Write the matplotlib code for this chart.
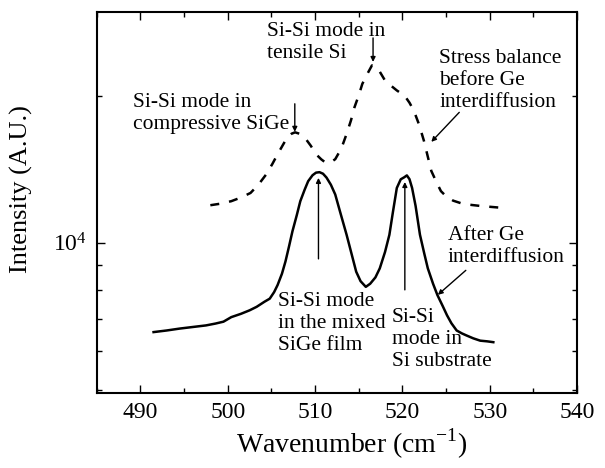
import numpy as np
import matplotlib
matplotlib.use("Agg")
import matplotlib.pyplot as plt
from matplotlib.ticker import LogLocator, NullFormatter, MultipleLocator

plt.rcParams['font.family'] = ['Liberation Serif', 'DejaVu Serif']
plt.rcParams['mathtext.fontset'] = 'custom'
plt.rcParams['mathtext.rm'] = 'Liberation Serif'

# Raman spectra, after Ge interdiffusion (solid)
wn_after = [491.5, 493.0, 494.5, 496.0, 497.5, 498.6, 499.5, 500.4, 501.5, 502.5,
            503.3, 504.2, 504.8, 505.3, 505.7, 506.2, 506.6, 507.0, 507.4, 507.9,
            508.3, 508.8, 509.2, 509.7, 510.1, 510.5, 510.9, 511.3, 511.8, 512.3,
            512.9, 513.6, 514.2, 514.7, 515.2, 515.8, 516.3, 516.9, 517.4, 518.0,
            518.5, 518.9, 519.35, 519.8, 520.2, 520.5, 520.8, 521.1, 521.5, 522.0,
            522.5, 522.9, 523.5, 524.0, 524.6, 525.1, 525.6, 526.2, 526.8, 527.3,
            528.1, 528.9, 529.7, 530.4]
int_after = [6570, 6620, 6680, 6730, 6780, 6840, 6900, 7050, 7160, 7280,
             7400, 7580, 7690, 7930, 8200, 8650, 9160, 9820, 10560, 11400,
             12170, 12850, 13370, 13750, 13920, 13950, 13850, 13600, 13150, 12560,
             11500, 10390, 9450, 8730, 8350, 8130, 8250, 8500, 8870, 9580,
             10390, 11550, 12950, 13490, 13620, 13740, 13500, 12950, 11900, 10390,
             9500, 8870, 8250, 7820, 7430, 7110, 6850, 6620, 6530, 6470,
             6380, 6310, 6290, 6265]

# stress balance before Ge interdiffusion (dashed)
wn_before = [498.0, 499.2, 500.4, 501.5, 502.6, 503.5, 504.4, 505.1, 505.7, 506.3,
             506.8, 507.3, 507.7, 508.2, 508.8, 509.5, 510.1, 510.7, 511.2, 511.8,
             512.3, 513.0, 513.6, 514.1, 514.5, 515.0, 515.4, 516.0, 516.5, 517.2,
             518.0, 518.7, 519.35, 520.25, 520.8, 521.3, 521.9, 522.45, 523.3, 523.9,
             524.4, 525.0, 525.8, 526.9, 528.0, 529.1, 530.3, 531.5]
int_before = [11940, 12030, 12170, 12380, 12650, 13150, 13810, 14500, 15180, 15850,
              16430, 16720, 16830, 16720, 16430, 15800, 15180, 14820, 14590, 14620,
              14830, 15600, 16700, 17800, 18930, 20050, 21140, 22200, 23060, 22700,
              21480, 20950, 20500, 19990, 19350, 18640, 17450, 16180, 14030, 13300,
              12760, 12450, 12200, 12020, 11950, 11890, 11840, 11790]

fig = plt.figure(figsize=(6.05, 4.68), dpi=100)
ax = fig.add_axes([0.160, 0.161, 0.794, 0.814])

ax.plot(wn_after, int_after, color='black', lw=1.8)
ax.plot(wn_before, int_before, color='black', lw=1.8, dashes=(3.6, 4.0))

ax.set_yscale('log')
ax.set_xlim(485, 540)
ax.set_ylim(4940, 29700)

ax.xaxis.set_major_locator(MultipleLocator(10))
ax.xaxis.set_minor_locator(MultipleLocator(5))
ax.yaxis.set_major_locator(LogLocator(base=10))
ax.yaxis.set_minor_locator(LogLocator(base=10, subs=np.arange(2, 10)))
ax.yaxis.set_minor_formatter(NullFormatter())
ax.yaxis.set_major_formatter(lambda v, p: r'$\mathregular{10^{4}}$' if abs(v - 1e4) < 1 else '')

ax.tick_params(which='both', direction='in', top=True, right=True, labelsize=17, width=1.0)
ax.tick_params(which='major', length=6, pad=7)
ax.tick_params(which='minor', length=3.5)
for s in ax.spines.values():
    s.set_linewidth(1.5)

ax.set_xlabel(r'Wavenumber (cm$^{\mathregular{-1}}$)', fontsize=20)
ax.xaxis.set_label_coords(0.53, -0.09)
ax.set_ylabel('Intensity (A.U.)', fontsize=19)
ax.yaxis.set_label_coords(-0.133, 0.535)

fs = 15.5
arr = dict(arrowstyle='-|>', color='black', lw=1.0, mutation_scale=7, shrinkA=0, shrinkB=0)

ax.text(489.1, 18410, 'Si-Si mode in\ncompressive SiGe', fontsize=fs, ha='left', va='center')
ax.annotate('', xy=(507.67, 16870), xytext=(507.67, 19250), arrowprops=arr)

ax.text(504.5, 25710, 'Si-Si mode in\ntensile Si', fontsize=fs, ha='left', va='center')
ax.annotate('', xy=(516.63, 23440), xytext=(516.63, 26250), arrowprops=arr)

ax.text(524.2, 21490, 'Stress balance\nbefore Ge\ninterdiffusion', fontsize=fs, ha='left', va='center')
ax.annotate('', xy=(523.3, 16090), xytext=(526.5, 18490), arrowprops=arr)

ax.text(525.2, 9831, 'After Ge\ninterdiffusion', fontsize=fs, ha='left', va='center')
ax.annotate('', xy=(524.05, 7830), xytext=(527.25, 8787), arrowprops=arr)

ax.text(505.7, 6843, 'Si-Si mode\nin the mixed\nSiGe film', fontsize=fs, ha='left', va='center')
ax.annotate('', xy=(510.38, 13580), xytext=(510.38, 9275), arrowprops=arr)

ax.text(518.8, 6350, 'Si-Si\nmode in\nSi substrate', fontsize=fs, ha='left', va='center')
ax.annotate('', xy=(520.27, 13320), xytext=(520.27, 8015), arrowprops=arr)

fig.savefig('out.png', dpi=100)
